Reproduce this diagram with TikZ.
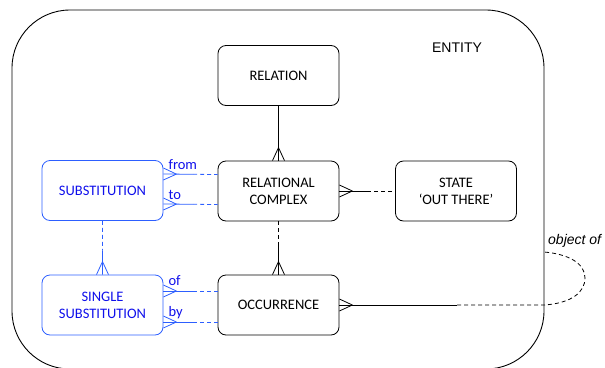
\documentclass[tikz,border=0pt]{standalone}
\usepackage{fontspec}
\setmainfont{Carlito}
\newfontfamily\arialf{Liberation Sans}
\usetikzlibrary{calc}
\definecolor{bborder}{RGB}{45,95,255}
\definecolor{btext}{RGB}{15,15,235}
\pgfarrowsdeclare{crow}{crow}{\pgfarrowsleftextend{0pt}\pgfarrowsrightextend{0pt}}{%
  \pgfsetdash{}{0pt}%
  \pgfpathmoveto{\pgfpoint{-13pt}{0pt}}\pgfpathlineto{\pgfpoint{0pt}{6pt}}%
  \pgfpathmoveto{\pgfpoint{-13pt}{0pt}}\pgfpathlineto{\pgfpoint{0pt}{-6pt}}%
  \pgfusepathqstroke}
\tikzset{
  ebox/.style={draw, rounded corners=8pt, line width=0.8pt, minimum width=121pt, minimum height=60pt,
    align=center, font=\fontsize{14.5}{17}\selectfont},
  bbox/.style={ebox, draw=bborder, text=btext},
  ln/.style={line width=0.8pt},
  dsh/.style={line width=0.8pt, dash pattern=on 4pt off 3pt},
  lbl/.style={text=btext, font=\fontsize{14.5}{16}\selectfont, inner sep=0pt, anchor=base west},
}
\begin{document}
\begin{tikzpicture}[x=1pt,y=-1pt]
\useasboundingbox (0,0) rectangle (605,367);
\node[draw, line width=0.9pt, rounded corners=58pt, minimum width=532pt, minimum height=359pt, inner sep=0pt] (ent) at (278,189.5) {};
\node[font=\arialf\fontsize{14}{16}\selectfont, inner sep=0pt] (entl) at (457,48) {ENTITY};

\node[ebox] (rel) at (278.5,75.5) {RELATION};
\node[ebox] (rc) at (278.5,191) {RELATIONAL\\COMPLEX};
\node[ebox] (occ) at (278.5,305) {OCCURRENCE};
\node[ebox] (st) at (456,191) {STATE\\`OUT THERE'};
\node[bbox] (sub) at (102.5,190.5) {SUBSTITUTION};
\node[bbox] (ss) at (102.5,305) {SINGLE\\SUBSTITUTION};

% relation - relational complex
\draw[ln,-crow] (rel) -- (rc);
% relational complex - state
\coordinate (m1) at ($(rc.east)!0.5!(st.west)$);
\draw[ln,crow-] (rc.east) -- (m1);
\draw[dsh] (m1) -- (st.west);
% relational complex - occurrence
\coordinate (m2) at ($(rc.south)!0.4!(occ.north)$);
\draw[dsh] (rc.south) -- (m2);
\draw[ln,-crow] (m2) -- (occ.north);
% substitution - single substitution
\coordinate (m3) at ($(sub.south)!0.55!(ss.north)$);
\draw[dsh,bborder] (sub.south) -- (m3);
\draw[ln,bborder,-crow] (m3) -- (ss.north);
% from / to
\foreach \nm/\sh/\tx in {f/16.5/from, t/-13.5/to}{
  \coordinate (a\nm) at ([yshift=\sh pt]sub.east);
  \coordinate (b\nm) at ([yshift=\sh pt]rc.west);
  \coordinate (c\nm) at ($(a\nm)!0.55!(b\nm)$);
  \draw[ln,bborder,crow-] (a\nm) -- (c\nm);
  \draw[dsh,bborder] (c\nm) -- (b\nm);
  \node[lbl] (l\nm) at ([xshift=5pt,yshift=5pt]a\nm) {\tx};
}
% of / by
\foreach \nm/\sh/\tx in {o/14/of, y/-17/by}{
  \coordinate (a\nm) at ([yshift=\sh pt]ss.east);
  \coordinate (b\nm) at ([yshift=\sh pt]occ.west);
  \coordinate (c\nm) at ($(a\nm)!0.55!(b\nm)$);
  \draw[ln,bborder,crow-] (a\nm) -- (c\nm);
  \draw[dsh,bborder] (c\nm) -- (b\nm);
  \node[lbl] (l\nm) at ([xshift=5pt,yshift=5.5pt]a\nm) {\tx};
}
% object of loop
\coordinate (o1) at (ent.east |- occ.east);
\coordinate (m4) at (457,305);
\coordinate (o2) at (544,252);
\draw[ln,crow-] (occ.east) -- (m4);
\draw[dsh] (m4) -- (o1) .. controls (572,303) and (585,292) .. (585,278) .. controls (585,263) and (568,254) .. (o2);
\node[font=\arialf\itshape\fontsize{14}{16}\selectfont, inner sep=0pt, anchor=west] (objl) at (548,241) {object of};
\end{tikzpicture}
\end{document}
